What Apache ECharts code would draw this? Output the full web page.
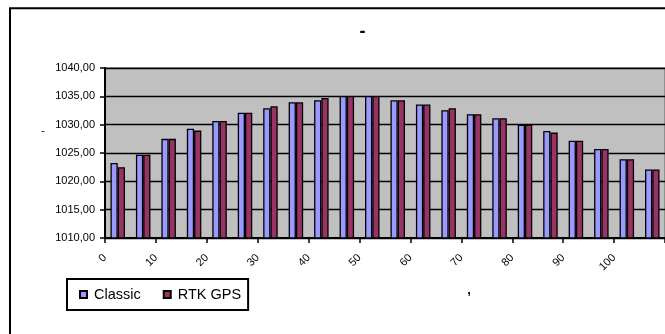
<!DOCTYPE html>
<html>
<head>
<meta charset="utf-8">
<script src="https://cdn.jsdelivr.net/npm/echarts@6/dist/echarts.min.js"></script>
<style>
html,body{margin:0;padding:0;background:#fff;}
#c{width:665px;height:334px;}
</style>
</head>
<body>
<div id="c"></div>
<script>
const categories = ['0','5','10','15','20','25','30','35','40','45','50','55','60','65','70','75','80','85','90','95','100','105'];
const classic = [1023.25,1024.7,1027.5,1029.3,1030.65,1032.1,1032.9,1033.95,1034.3,1035.05,1035.05,1034.3,1033.55,1032.55,1031.85,1031.15,1030.0,1028.9,1027.15,1025.7,1023.9,1022.1];
const rtkGps = [1022.5,1024.7,1027.5,1028.95,1030.65,1032.1,1033.25,1033.95,1034.7,1035.05,1035.05,1034.3,1033.55,1032.9,1031.85,1031.15,1030.0,1028.6,1027.15,1025.7,1023.9,1022.1];
const tickLabels = ['0','10','20','30','40','50','60','70','80','90','100'];
const seriesNames = ['Classic','RTK GPS'];
const yTicks = {min:1010, max:1040, step:5};

const chart = echarts.init(document.getElementById('c'), null, {renderer:'canvas'});
const FONT = 'Liberation Sans, Arial, sans-serif';
chart.setOption({
  animation:false,
  backgroundColor:'#fff',
  textStyle:{fontFamily:FONT},
  grid:{left:105, top:68, width:561, height:170, show:true, backgroundColor:'#C0C0C0', borderColor:'#808080', borderWidth:1.5, containLabel:false},
  legend:{
    left:67, top:279, orient:'horizontal',
    padding:[8,7,8,12],
    borderColor:'#000', borderWidth:2, backgroundColor:'#fff',
    itemWidth:7, itemHeight:7, itemGap:22, icon:'rect',
    textStyle:{fontFamily:FONT, fontSize:14.5, color:'#000', padding:[0,0,0,2]},
    data:seriesNames
  },
  xAxis:[
    {type:'category', data:categories, boundaryGap:true, gridIndex:0, position:'bottom',
     axisLine:{lineStyle:{color:'#000', width:2}},
     axisTick:{show:true, length:5, lineStyle:{color:'#000', width:1.5}},
     axisLabel:{show:false}, splitLine:{show:false}},
    {type:'value', min:0, max:110, interval:10, gridIndex:0, position:'bottom',
     axisLine:{show:false}, axisTick:{show:false}, splitLine:{show:false},
     axisLabel:{show:true, rotate:45, margin:18, fontSize:11, color:'#000', fontFamily:FONT, showMaxLabel:false,
       formatter:function(v){const i=Math.round(v/10); return i<tickLabels.length?tickLabels[i]:'';}}}
  ],
  yAxis:{type:'value', min:yTicks.min, max:yTicks.max, interval:yTicks.step,
    axisLine:{show:true, lineStyle:{color:'#000', width:2}},
    axisTick:{show:true, length:5, lineStyle:{color:'#000', width:1.5}},
    splitLine:{show:true, lineStyle:{color:'#000', width:1.3}},
    axisLabel:{margin:10, fontSize:11, color:'#000', fontFamily:FONT,
      formatter:function(v){return v.toFixed(2).replace('.',',');}}},
  series:[
    {name:seriesNames[0], type:'bar', data:classic, xAxisIndex:0, barGap:'0%', barCategoryGap:'43%',
     itemStyle:{color:'#9999FF', borderColor:'#000', borderWidth:1.3}},
    {name:seriesNames[1], type:'bar', data:rtkGps, xAxisIndex:0, barGap:'0%', barCategoryGap:'43%',
     itemStyle:{color:'#993366', borderColor:'#000', borderWidth:1.3}}
  ],
  graphic:[
    {type:'rect', silent:true, z:100, shape:{x:10, y:8.3, width:800, height:500}, style:{fill:'none', stroke:'#000', lineWidth:2}},
    {type:'text', silent:true, x:362.5, y:32, style:{text:'-', font:'bold 18px '+FONT, fill:'#000', textAlign:'center', textVerticalAlign:'middle'}},
    {type:'text', silent:true, x:40, y:131.5, rotation:Math.PI/2, style:{text:',', font:'11px '+FONT, fill:'#000', textAlign:'center', textVerticalAlign:'middle'}},
    {type:'text', silent:true, x:469, y:290.5, style:{text:',', font:'bold 13px '+FONT, fill:'#000', textAlign:'center', textVerticalAlign:'middle'}}
  ]
});
</script>
</body>
</html>
